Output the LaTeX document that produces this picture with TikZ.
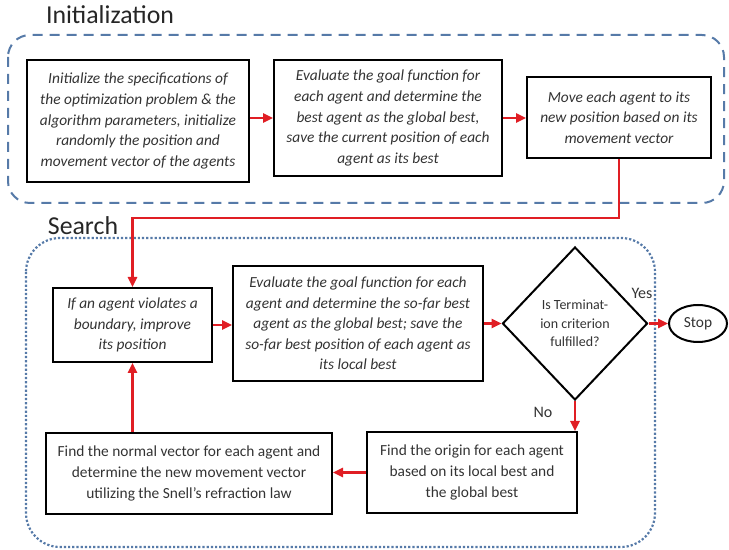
\documentclass[tikz,border=0pt]{standalone}
\usepackage{fontspec}
\setmainfont{Carlito}
\usetikzlibrary{shapes.geometric,arrows.meta}

\definecolor{flowred}{RGB}{224,30,36}
\definecolor{frameblue}{RGB}{86,122,168}

\begin{document}
\begin{tikzpicture}[x=0.5pt,y=-0.5pt,
    box/.style={draw=black,line width=1pt,align=center,inner sep=0pt,text=black!80,
      font=\fontsize{7.7}{10.3}\selectfont},
    ibox/.style={box,font=\fontsize{7.7}{10.3}\selectfont\itshape},
    flow/.style={draw=flowred,line width=1.2pt,-{Triangle[length=5pt,width=4.6pt]}},
    title/.style={text=black!85,font=\fontsize{12.9}{14}\selectfont}]
        \useasboundingbox (0,0) rectangle (729,550);

        % the two phases
        \draw[frameblue,line width=1pt,dash pattern=on 5pt off 3.5pt,rounded corners=11pt]
          (8,35) rectangle (724,203);
        \draw[frameblue,line width=1.1pt,dash pattern=on 1.1pt off 1pt,rounded corners=17pt]
          (26,238) rectangle (655,547);
        \node[title] (tinit) at (110,15) {Initialization};
        \node[title] (tsearch) at (83,226) {Search};

        % initialization
        \node[ibox,minimum width=111pt,minimum height=61pt] (init) at (138,121)
          {Initialize the specifications of\\the optimization problem \&\ the\\algorithm parameters, initialize\\randomly the position and\\movement vector of the agents};
        \node[ibox,minimum width=114pt,minimum height=58pt] (evalg) at (388,118)
          {Evaluate the goal function for\\each agent and determine the\\best agent as the global best,\\save the current position of each\\agent as its best};
        \node[ibox,minimum width=92pt,minimum height=40.5pt] (move) at (619,117.5)
          {Move each agent to its\\new position based on its\\movement vector};

        % search loop
        \node[ibox,minimum width=79.5pt,minimum height=37pt] (bound) at (132.5,325)
          {If an agent violates a\\boundary, improve\\its position};
        \node[ibox,minimum width=125pt,minimum height=57.5pt] (evall) at (358,323.5)
          {Evaluate the goal function for each\\agent and determine the so-far best\\agent as the global best; save the\\so-far best position of each agent as\\its local best};
        \node[draw=black,line width=1pt,diamond,inner sep=0pt,minimum width=72.5pt,minimum height=76.5pt,
          align=center,text=black!80,font=\fontsize{7}{9.2}\selectfont] (term) at (575,323.5)
          {Is Terminat-\\ion criterion\\fulfilled?};
        \node[draw=black,line width=1pt,ellipse,inner sep=0pt,minimum width=29pt,minimum height=18.5pt,
          text=black!80,font=\fontsize{7.7}{9}\selectfont] (stop) at (698,323.5) {Stop};
        \node[box,minimum width=105pt,minimum height=40.5pt] (origin) at (472,472.5)
          {Find the origin for each agent\\based on its local best and\\the global best};
        \node[box,minimum width=143pt,minimum height=40.5pt] (snell) at (189,473.5)
          {Find the normal vector for each agent and\\determine the new movement vector\\utilizing the Snell’s refraction law};

        \node[text=black!80,font=\fontsize{8}{9}\selectfont] (yes) at (642,293) {Yes};
        \node[text=black!80,font=\fontsize{8}{9}\selectfont] (no) at (543,412) {No};

        \coordinate (turn) at (0,218);

        \draw[flow] (init.east |- evalg.west) -- (evalg.west);
        \draw[flow] (evalg.east) -- (evalg.east -| move.west);
        \draw[flow] (move.south) -- (move.south |- turn) -- (bound.north |- turn) -- (bound.north);
        \draw[flow] (bound.east) -- (bound.east -| evall.west);
        \draw[flow] (evall.east) -- (evall.east -| term.west);
        \draw[flow] (term.east) -- (stop.west);
        \draw[flow] (term.south) -- (term.south |- origin.north);
        \draw[flow] (origin.west) -- (origin.west -| snell.east);
        \draw[flow] (snell.north -| bound.south) -- (bound.south);
\end{tikzpicture}
\end{document}
